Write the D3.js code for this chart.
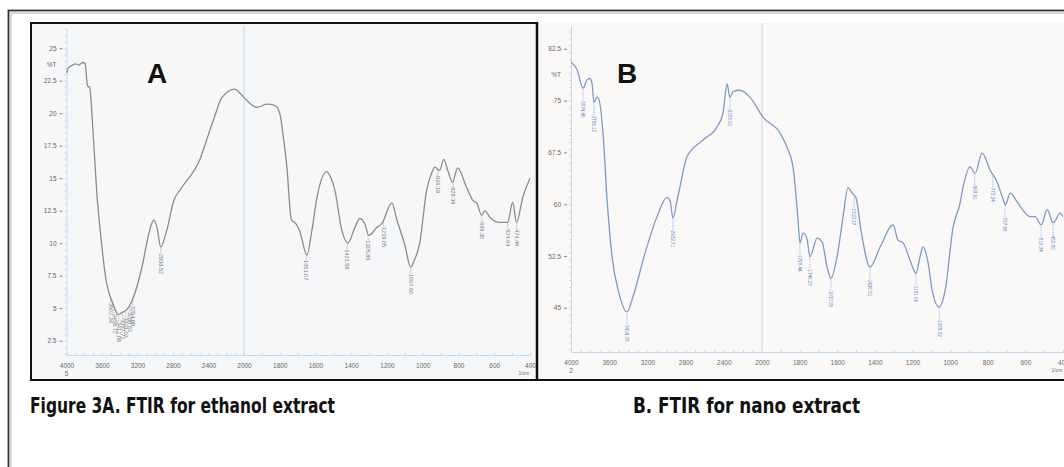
<!DOCTYPE html>
<html>
<head>
<meta charset="utf-8">
<script src="https://cdn.jsdelivr.net/npm/d3@7"></script>
<style>
  body { margin: 0; background: #fff; }
  svg { display: block; }
</style>
</head>
<body>
<div id="chart"></div>
<script>
// shared tick labels
const xTicks = [4000, 3600, 3200, 2800, 2400, 2000, 1800, 1600, 1400, 1200, 1000, 800, 600, 400];
const yTicksA = [2.5, 5, 7.5, 10, 12.5, 15, 17.5, 20, 22.5, 25];
const yTicksB = [45, 52.5, 60, 67.5, 75, 82.5];

// panel A - ethanol extract (wavenumber, %T)
const wnA = [4000, 3975, 3932, 3900, 3860, 3820, 3790, 3763, 3740, 3700,
             3661, 3605, 3560, 3480, 3412, 3380, 3325, 3260, 3150, 3070,
             3017, 2980, 2938, 2870, 2790, 2720, 2500, 2384, 2328, 2250,
             2102, 2040, 1985, 1927, 1872, 1828, 1800, 1783, 1760, 1735,
             1710, 1690, 1648, 1620, 1592, 1536, 1520, 1492, 1453, 1419,
             1380, 1352, 1324, 1302, 1257, 1229, 1173, 1145, 1100, 1067,
             1050, 1017, 978, 950, 933, 905, 883, 860, 833, 805,
             755, 720, 698, 670, 653, 625, 570, 525, 497, 475,
             441, 400];
const tA = [23.1, 23.5, 23.7, 23.8, 23.7, 23.9, 23.8, 22.1, 22.0, 18.5,
            14.1, 10.0, 7.4, 5.4, 4.5, 4.65, 4.85, 5.6, 8.15, 10.8,
            11.8, 11.2, 9.7, 11.0, 13.3, 14.1, 16.4, 18.7, 19.8, 21.2,
            21.85, 21.5, 21.0, 20.45, 20.7, 20.6, 20.0, 18.5, 15.85, 11.8,
            11.5, 11.0, 9.1, 11.0, 13.5, 15.5, 15.2, 14.1, 11.0, 10.0,
            11.2, 11.9, 11.5, 10.6, 11.2, 11.5, 13.1, 11.8, 9.85, 8.15,
            8.6, 10.0, 14.1, 15.4, 15.85, 15.6, 16.45, 15.6, 14.7, 15.8,
            14.3, 13.3, 13.1, 12.15, 12.5, 12.0, 11.6, 11.6, 13.15, 11.6,
            13.5, 15.0];
const peaksA = [3502.34, 3458.72, 3412.08, 3367.71, 3331.07, 3288.63, 3254.89, 2938.52,
                1651.07, 1421.58, 1305.85, 1219.05, 1067.60, 916.19, 829.39, 669.30, 524.64, 474.49];

// panel B - nano extract (wavenumber, %T)
const wnB = [4000, 3937, 3874, 3832, 3801, 3780, 3759, 3728, 3707, 3665,
             3623, 3570, 3497, 3414, 3351, 3225, 3099, 2995, 2963, 2932,
             2890, 2859, 2785, 2618, 2471, 2408, 2366, 2335, 2304, 2230,
             2126, 1995, 1904, 1862, 1835, 1820, 1808, 1798, 1782, 1761,
             1745, 1707, 1680, 1654, 1633, 1601, 1569, 1543, 1521, 1500,
             1473, 1426, 1372, 1303, 1277, 1250, 1213, 1181, 1160, 1144,
             1117, 1096, 1058, 1026, 984, 947, 931, 894, 867, 830,
             787, 750, 735, 715, 707, 680, 643, 574, 548, 516,
             484, 452, 415, 400];
const tB = [80.6, 79.5, 76.8, 78.0, 78.2, 77.5, 74.7, 75.5, 75.1, 70.3,
            60.8, 52.4, 47.1, 44.4, 46.6, 52.9, 58.2, 61.0, 60.5, 58.0,
            60.5, 62.5, 66.9, 69.3, 71.2, 73.2, 77.4, 75.5, 76.3, 76.5,
            75.5, 72.6, 70.3, 67.9, 65.4, 61.5, 57.5, 54.4, 55.8, 55.0,
            52.4, 55.1, 54.5, 50.9, 49.3, 52.4, 58.2, 62.4, 61.6, 60.9,
            56.1, 50.9, 53.8, 57.0, 54.8, 54.4, 51.9, 50.0, 52.4, 53.8,
            51.5, 47.6, 45.1, 47.6, 56.7, 60.2, 62.5, 65.4, 64.5, 67.4,
            64.9, 63.2, 62.0, 60.5, 59.9, 61.6, 60.3, 58.2, 58.2, 57.0,
            59.2, 57.3, 58.7, 58.2];
const peaksB = [3874.45, 3759.12, 3414.08, 2932.71, 2335.91, 1798.44, 1745.27, 1633.80, 1510.37,
                1426.51, 1181.66, 1058.02, 868.91, 773.24, 707.65, 516.34, 452.80];

const W = 1064, H = 467;
const svg = d3.select("#chart").append("svg")
    .attr("width", W)
    .attr("height", H)
    .style("font-family", "'Liberation Sans', Arial, sans-serif");

// outer page frame (double line, runs off the right/bottom)
svg.append("rect")
    .attr("x", 8.5).attr("y", 10.5).attr("width", 1100).attr("height", 500)
    .attr("fill", "none").attr("stroke", "#333").attr("stroke-width", 1.8);
svg.append("rect")
    .attr("x", 11).attr("y", 13).attr("width", 1100).attr("height", 500)
    .attr("fill", "none").attr("stroke", "#b5b5b5").attr("stroke-width", 1);

// panel boxes
svg.append("rect")
    .attr("x", 31).attr("y", 23).attr("width", 506).attr("height", 357)
    .attr("fill", "#f6f7f9");
svg.append("rect")
    .attr("x", 537).attr("y", 23).attr("width", 540).attr("height", 357)
    .attr("fill", "#fbf8f8");

function drawPanel(cfg) {
    const g = svg.append("g");
    const x = d3.scaleLinear().domain([4000, 2000, 400]).range(cfg.xr);
    const y = d3.scaleLinear().domain(cfg.yd).range(cfg.yr);
    const axisCol = "#c5d8ec";

    // vertical line at 2000 (scale change)
    g.append("line")
        .attr("x1", x(2000)).attr("x2", x(2000))
        .attr("y1", cfg.yr[1] - 3).attr("y2", cfg.yr[0])
        .attr("stroke", axisCol).attr("stroke-width", 1);

    // y axis, minor then major
    g.append("g")
        .attr("transform", `translate(${cfg.xr[0]},0)`)
        .call(d3.axisLeft(y).ticks(40).tickSize(2).tickSizeOuter(0).tickFormat(""))
        .call(a => a.selectAll("line, path").attr("stroke", axisCol));
    const ya = g.append("g")
        .attr("transform", `translate(${cfg.xr[0] - 4},0)`)
        .call(d3.axisLeft(y).tickValues(cfg.yTicks).tickSize(3).tickSizeOuter(0).tickPadding(3)
            .tickFormat(d => String(d)));
    ya.select(".domain").remove();
    ya.selectAll("line").attr("stroke", "#8a8a8a");
    ya.selectAll("text").attr("font-size", 6.5).attr("fill", cfg.tickText)
        .attr("font-family", "'Liberation Sans', Arial, sans-serif");

    g.append("text")
        .attr("x", cfg.xr[0] - 10).attr("y", y(cfg.pctAt))
        .attr("text-anchor", "end").attr("dy", "0.35em")
        .attr("font-size", 6.5).attr("fill", cfg.tickText)
        .text("%T");

    // x axis, minor then major
    g.append("g")
        .attr("transform", `translate(0,${cfg.yr[0]})`)
        .call(d3.axisTop(x).tickValues(d3.range(400, 4001, 100)).tickSize(2).tickSizeOuter(0).tickFormat(""))
        .call(a => a.selectAll("line, path").attr("stroke", axisCol));
    const xa = g.append("g")
        .attr("transform", `translate(0,${cfg.yr[0]})`)
        .call(d3.axisBottom(x).tickValues(xTicks).tickSize(0).tickPadding(8).tickFormat(d3.format("d")));
    xa.select(".domain").remove();
    xa.selectAll("text").attr("font-size", 6.5).attr("fill", cfg.tickText)
        .attr("font-family", "'Liberation Sans', Arial, sans-serif");

    g.append("text")
        .attr("x", x(4000)).attr("y", cfg.yr[0] + 21)
        .attr("text-anchor", "middle").attr("font-size", 7)
        .attr("fill", cfg.subCol).text(cfg.sub);
    g.append("text")
        .attr("x", x(400) - 6).attr("y", cfg.yr[0] + 20)
        .attr("text-anchor", "middle").attr("font-size", 5)
        .attr("fill", cfg.tickText).text("1/cm");

    // spectrum
    const pts = cfg.wn.map((w, i) => [w, cfg.t[i]]);
    const line = d3.line()
        .x(d => x(d[0]))
        .y(d => y(d[1]))
        .curve(d3.curveMonotoneX);
    g.append("path")
        .datum(pts)
        .attr("fill", "none")
        .attr("stroke", cfg.lineCol)
        .attr("stroke-width", 1.3)
        .attr("d", line);

    // peak labels
    const tAt = d3.scaleLinear().domain(cfg.wn).range(cfg.t);
    cfg.peaks.forEach(p => {
        const px = x(p), py = y(tAt(p));
        g.append("line")
            .attr("x1", px).attr("x2", px)
            .attr("y1", py + 1.5).attr("y2", py + cfg.gap)
            .attr("stroke", cfg.labCol).attr("stroke-width", 0.6)
            .attr("stroke-dasharray", "1,1");
        g.append("text")
            .attr("transform", `translate(${px},${py + cfg.gap}) rotate(90)`)
            .attr("dy", "0.35em")
            .attr("font-size", cfg.labSize)
            .attr("fill", cfg.labCol)
            .text(d3.format(".2f")(p));
    });

    // panel letter
    g.append("text")
        .attr("x", cfg.letterX).attr("y", 83)
        .attr("font-size", 28).attr("font-weight", "bold")
        .attr("font-family", "Arial, 'Liberation Sans', sans-serif")
        .attr("fill", "#111")
        .text(cfg.letter);
}

drawPanel({
    wn: wnA, t: tA, peaks: peaksA, yTicks: yTicksA,
    xr: [66.5, 244, 530], yd: [1.4, 26.5], yr: [355, 28.7],
    pctAt: 23.7, sub: "5", subCol: "#777", tickText: "#666",
    lineCol: "#8c8c8c", labCol: "#7a7a7a", labSize: 5.6, gap: 7,
    letter: "A", letterX: 147
});

drawPanel({
    wn: wnB, t: tB, peaks: peaksB, yTicks: yTicksB,
    xr: [571, 762, 1063], yd: [38.6, 85.8], yr: [352, 26],
    pctAt: 78.7, sub: "2", subCol: "#4f78c0", tickText: "#6a6a6a",
    lineCol: "#8099c9", labCol: "#5f86c4", labSize: 4.6, gap: 13,
    letter: "B", letterX: 617
});

// panel borders
svg.append("rect")
    .attr("x", 31).attr("y", 23).attr("width", 506).attr("height", 357)
    .attr("fill", "none").attr("stroke", "#111").attr("stroke-width", 2);
svg.append("line")
    .attr("x1", 537).attr("x2", 537).attr("y1", 22).attr("y2", 381)
    .attr("stroke", "#111").attr("stroke-width", 2.5);
svg.append("line")
    .attr("x1", 537).attr("x2", W).attr("y1", 380).attr("y2", 380)
    .attr("stroke", "#111").attr("stroke-width", 2);

// captions
svg.append("text")
    .attr("x", 30).attr("y", 413)
    .attr("font-size", 21).attr("font-weight", "bold")
    .attr("font-family", "'Liberation Sans Narrow', 'DejaVu Sans Condensed', 'Open Sans', sans-serif")
    .attr("textLength", 305).attr("lengthAdjust", "spacingAndGlyphs")
    .attr("fill", "#111")
    .text("Figure 3A. FTIR for ethanol extract");
svg.append("text")
    .attr("x", 633).attr("y", 413)
    .attr("font-size", 21).attr("font-weight", "bold")
    .attr("font-family", "'Liberation Sans Narrow', 'DejaVu Sans Condensed', 'Open Sans', sans-serif")
    .attr("textLength", 227).attr("lengthAdjust", "spacingAndGlyphs")
    .attr("fill", "#111")
    .text("B. FTIR for nano extract");
</script>
</body>
</html>
